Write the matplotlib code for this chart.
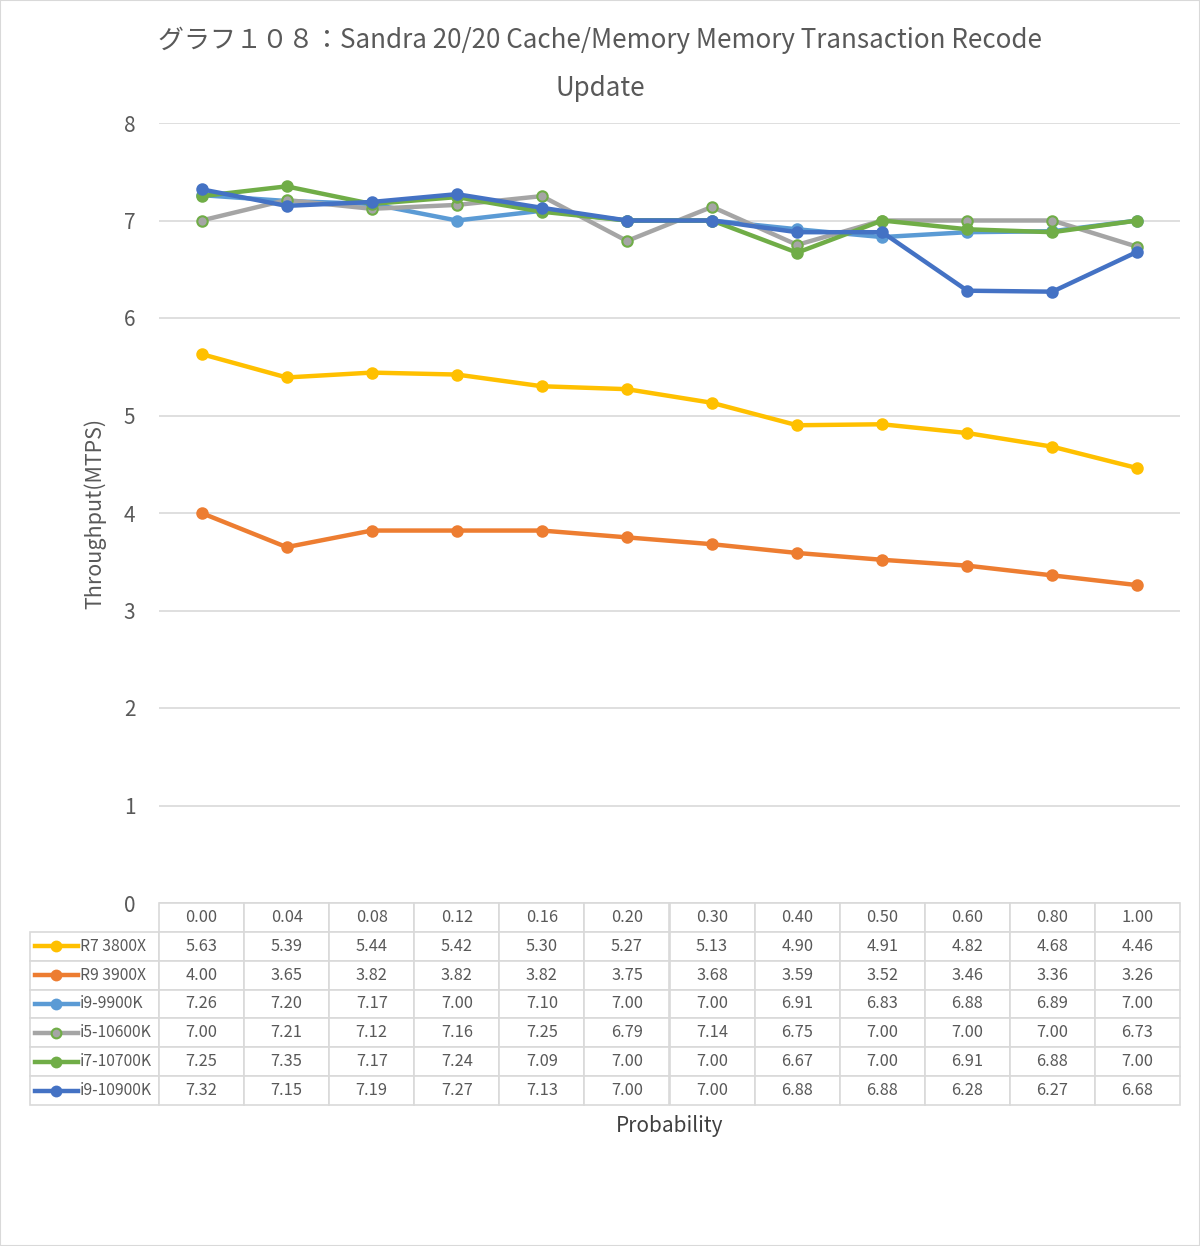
import matplotlib.pyplot as plt
from matplotlib.patches import Rectangle

plt.rcParams['font.family'] = ['Noto Sans CJK JP', 'DejaVu Sans']

# Data
probabilities = ['0.00', '0.04', '0.08', '0.12', '0.16', '0.20', '0.30', '0.40', '0.50', '0.60', '0.80', '1.00']
series_names = ['R7 3800X', 'R9 3900X', 'i9-9900K', 'i5-10600K', 'i7-10700K', 'i9-10900K']
r7_3800x = [5.63, 5.39, 5.44, 5.42, 5.30, 5.27, 5.13, 4.90, 4.91, 4.82, 4.68, 4.46]
r9_3900x = [4.00, 3.65, 3.82, 3.82, 3.82, 3.75, 3.68, 3.59, 3.52, 3.46, 3.36, 3.26]
i9_9900k = [7.26, 7.20, 7.17, 7.00, 7.10, 7.00, 7.00, 6.91, 6.83, 6.88, 6.89, 7.00]
i5_10600k = [7.00, 7.21, 7.12, 7.16, 7.25, 6.79, 7.14, 6.75, 7.00, 7.00, 7.00, 6.73]
i7_10700k = [7.25, 7.35, 7.17, 7.24, 7.09, 7.00, 7.00, 6.67, 7.00, 6.91, 6.88, 7.00]
i9_10900k = [7.32, 7.15, 7.19, 7.27, 7.13, 7.00, 7.00, 6.88, 6.88, 6.28, 6.27, 6.68]
all_series = [r7_3800x, r9_3900x, i9_9900k, i5_10600k, i7_10700k, i9_10900k]

line_colors = ['#FFC000', '#ED7D31', '#5B9BD5', '#A5A5A5', '#70AD47', '#4472C4']
edge_colors = ['#FFC000', '#ED7D31', '#5B9BD5', '#70AD47', '#70AD47', '#4472C4']

W, H = 1200, 1246
fig = plt.figure(figsize=(W / 100, H / 100), dpi=100)
fig.patches.append(Rectangle((0, 0), 1, 1, transform=fig.transFigure, fill=False,
                             edgecolor='#d9d9d9', linewidth=1.5))

ax_l, ax_r, ax_t, ax_b = 159, 1180, 123, 903
ax = fig.add_axes([ax_l / W, 1 - ax_b / H, (ax_r - ax_l) / W, (ax_b - ax_t) / H])
ax_w, ax_h = ax_r - ax_l, ax_b - ax_t

x = list(range(len(probabilities)))
for vals, name, c, ec in zip(all_series, series_names, line_colors, edge_colors):
    ax.plot(x, vals, color=c, linewidth=3.2, marker='o', markersize=7.5,
            markerfacecolor=c, markeredgecolor=ec, markeredgewidth=1.5, label=name)

ax.set_xlim(-0.5, len(probabilities) - 0.5)
ax.set_ylim(0, 8)
ax.set_yticks(range(0, 9))
ax.grid(axis='y', color='#d9d9d9', linewidth=1.2)
ax.set_axisbelow(True)
for s in ax.spines.values():
    s.set_visible(False)
ax.set_xticks([])
ax.tick_params(axis='y', length=0, pad=17, labelsize=15, labelcolor='#595959')

ax.set_ylabel('Throughput(MTPS)', fontsize=15.5, color='#595959')
ax.yaxis.set_label_coords((106 - ax_l) / ax_w, 0.5)
ax.set_xlabel('Probability', fontsize=15, color='#404040')
ax.xaxis.set_label_coords(0.5, (ax_b - 1115) / ax_h)

fig.text(0.5, 1 - 40 / H, 'グラフ１０８：Sandra 20/20 Cache/Memory Memory Transaction Recode',
         ha='center', va='center', fontsize=18.7, color='#595959')
fig.text(0.5, 1 - 88 / H, 'Update', ha='center', va='center', fontsize=18.7, color='#595959')

# Data table below the plot
cell_text = [[''] + probabilities]
for name, vals in zip(series_names, all_series):
    cell_text.append([name] + ['%.2f' % v for v in vals])

tbl_left, tbl_bottom = 30, 1105
label_w = ax_l - tbl_left
col_w = ax_w / len(probabilities)
widths = [label_w] + [col_w] * len(probabilities)
tbl = ax.table(cellText=cell_text, colWidths=[w / ax_w for w in widths], cellLoc='center',
               bbox=[(tbl_left - ax_l) / ax_w, (ax_b - tbl_bottom) / ax_h,
                     (ax_r - tbl_left) / ax_w, (tbl_bottom - ax_b) / ax_h])
tbl.auto_set_font_size(False)
for (r, c), cell in tbl.get_celld().items():
    cell.set_edgecolor('#d9d9d9')
    cell.set_linewidth(1.2)
    cell.set_text_props(fontsize=11.8 if c > 0 else 11.3, color='#595959')
    if c == 0:
        cell._text.set_horizontalalignment('left')
        cell.PAD = 50 / label_w
    if r == 0 and c == 0:
        cell.visible_edges = ''

row_h = (tbl_bottom - ax_b) / len(cell_text)
for i, (c, ec) in enumerate(zip(line_colors, edge_colors)):
    yc = ax_b + row_h * (i + 1.5)
    ya = (ax_b - yc) / ax_h
    x0, x1 = (35 - ax_l) / ax_w, (78 - ax_l) / ax_w
    ax.plot([x0, x1], [ya, ya], transform=ax.transAxes, clip_on=False, color=c, linewidth=3.2)
    ax.plot([(x0 + x1) / 2], [ya], transform=ax.transAxes, clip_on=False, marker='o',
            markersize=7, color=c, markeredgecolor=ec, markeredgewidth=1.5)

plt.savefig('out.png', dpi=100)
